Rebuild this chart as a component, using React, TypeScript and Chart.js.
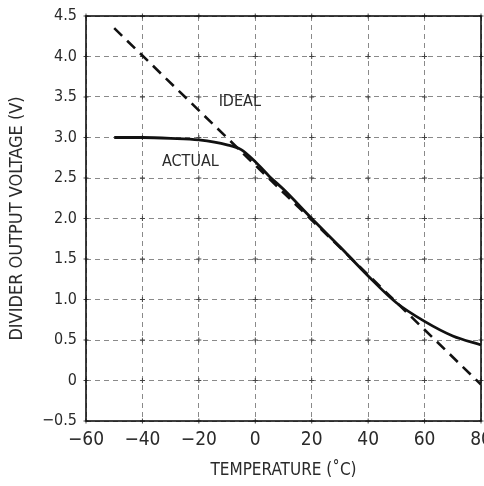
import React, { useEffect, useRef } from "react";
import { Chart, registerables } from "chart.js";

Chart.register(...registerables);

// ---- data ----
const actualTemps = [-50, -40, -30, -20, -10, -5, 0, 5, 10, 20, 30, 40, 50, 60, 70, 80];
const actualVolts = [3.0, 3.0, 2.99, 2.97, 2.91, 2.85, 2.7, 2.52, 2.36, 2.0, 1.65, 1.29, 0.96, 0.73, 0.55, 0.44];
const idealTemps = [-50, 80];
const idealVolts = [4.35, -0.05];
const xTickValues = [-60, -40, -20, 0, 20, 40, 60, 80];
const yTickValues = [-0.5, 0, 0.5, 1.0, 1.5, 2.0, 2.5, 3.0, 3.5, 4.0, 4.5];
const xTitle = "TEMPERATURE (˚C)";
const yTitle = "DIVIDER OUTPUT VOLTAGE (V)";
const annotations = [
  { text: "IDEAL", t: -5.5, v: 3.44 },
  { text: "ACTUAL", t: -23, v: 2.7 },
];

const FONT = "'Liberation Sans Narrow', 'DejaVu Sans Condensed', 'Roboto Condensed', 'DejaVu Sans', sans-serif";
const TEXT = "#2a2a2a";

const fmtY = (v: number) => {
  if (v === 0) return "0";
  const s = Math.abs(v).toFixed(1);
  return (v < 0 ? "\u2212" : "") + s;
};
const fmtX = (v: number) => (v < 0 ? "\u2212" + Math.abs(v) : String(v));

const framePlugin = {
  id: "frameAndLabels",
  beforeDatasetsDraw(chart: any) {
    const { ctx, chartArea, scales } = chart;
    const xs = scales.x, ys = scales.y;
    ctx.save();
    ctx.strokeStyle = "#444";
    ctx.lineWidth = 1;
    for (const tx of xTickValues) {
      for (const vy of yTickValues) {
        const px = xs.getPixelForValue(tx);
        const py = ys.getPixelForValue(vy);
        ctx.beginPath();
        ctx.moveTo(px - 2.5, py);
        ctx.lineTo(px + 2.5, py);
        ctx.moveTo(px, py - 2.5);
        ctx.lineTo(px, py + 2.5);
        ctx.stroke();
      }
    }
    ctx.strokeStyle = "#111";
    ctx.lineWidth = 1.6;
    ctx.strokeRect(chartArea.left, chartArea.top, chartArea.right - chartArea.left, chartArea.bottom - chartArea.top);
    ctx.restore();
  },
  afterDatasetsDraw(chart: any) {
    const { ctx, scales } = chart;
    ctx.save();
    ctx.fillStyle = TEXT;
    ctx.font = `16px ${FONT}`;
    ctx.textAlign = "center";
    ctx.textBaseline = "middle";
    for (const a of annotations) {
      ctx.fillText(a.text, scales.x.getPixelForValue(a.t), scales.y.getPixelForValue(a.v));
    }
    ctx.restore();
  },
};

export default function App() {
  const ref = useRef<HTMLCanvasElement>(null);
  useEffect(() => {
    if (!ref.current) return;
    const chart = new Chart(ref.current, {
      type: "line",
      data: {
        datasets: [
          {
            label: "Ideal",
            data: idealTemps.map((t, i) => ({ x: t, y: idealVolts[i] })),
            borderColor: "#111",
            borderWidth: 2.6,
            borderDash: [11, 7],
            pointRadius: 0,
            fill: false,
          },
          {
            label: "Actual",
            data: actualTemps.map((t, i) => ({ x: t, y: actualVolts[i] })),
            borderColor: "#111",
            borderWidth: 2.8,
            pointRadius: 0,
            cubicInterpolationMode: "monotone",
            fill: false,
          },
        ],
      },
      options: {
        responsive: false,
        animation: false,
        layout: { padding: { left: 0, top: 16, right: 3, bottom: 0 } },
        plugins: { legend: { display: false }, tooltip: { enabled: false } },
        scales: {
          x: {
            type: "linear",
            min: -60,
            max: 80,
            afterBuildTicks: (s: any) => {
              s.ticks = xTickValues.map((v) => ({ value: v }));
            },
            afterFit: (s: any) => {
              s.height = 65;
              s.paddingLeft = 0;
              s.paddingRight = 0;
            },
            ticks: {
              callback: (v: any) => fmtX(Number(v)),
              color: TEXT,
              font: { family: FONT, size: 19 },
              padding: 8,
              maxRotation: 0,
              autoSkip: false,
            },
            grid: { color: "#8a8a8a", lineWidth: 1, drawTicks: false },
            border: { display: false, dash: [5, 4] },
            title: {
              display: true,
              text: xTitle,
              color: TEXT,
              font: { family: FONT, size: 17 },
              padding: { top: 0, bottom: 5 },
            },
          },
          y: {
            type: "linear",
            min: -0.5,
            max: 4.5,
            afterBuildTicks: (s: any) => {
              s.ticks = yTickValues.map((v) => ({ value: v }));
            },
            afterFit: (s: any) => {
              s.width = 86;
              s.paddingTop = 0;
              s.paddingBottom = 0;
            },
            ticks: {
              callback: (v: any) => fmtY(Number(v)),
              color: TEXT,
              font: { family: FONT, size: 16 },
              padding: 9,
              autoSkip: false,
            },
            grid: { color: "#8a8a8a", lineWidth: 1, drawTicks: false },
            border: { display: false, dash: [5, 4] },
            title: {
              display: true,
              text: yTitle,
              color: TEXT,
              font: { family: FONT, size: 18 },
              padding: { top: 7, bottom: 0 },
            },
          },
        },
      },
      plugins: [framePlugin],
    } as any);
    return () => chart.destroy();
  }, []);
  return (
    <div style={{ position: "absolute", left: 0, top: 0, width: 484, height: 486, overflow: "hidden", background: "#fff" }}>
      <canvas ref={ref} width={484} height={486} style={{ display: "block" }} />
    </div>
  );
}
